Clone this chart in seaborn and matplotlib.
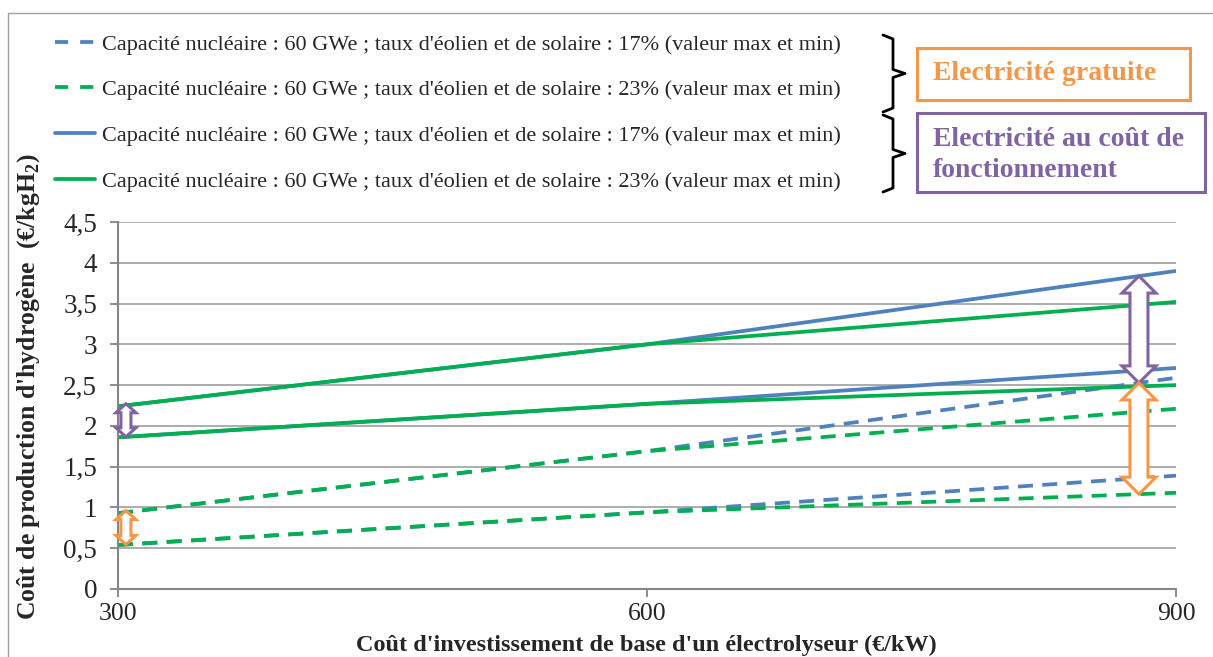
import numpy as np
import pandas as pd
import matplotlib
matplotlib.use("Agg")
import matplotlib.pyplot as plt
import seaborn as sns
from matplotlib.lines import Line2D
from matplotlib.patches import Polygon, Rectangle
from matplotlib.ticker import FuncFormatter
from matplotlib.transforms import IdentityTransform

# ---------------- data ----------------
x_cost = [300, 600, 900]
solid17_max = [2.24, 3.00, 3.90]
solid17_min = [1.86, 2.27, 2.71]
solid23_max = [2.24, 3.00, 3.52]
solid23_min = [1.86, 2.27, 2.50]
dash17_max = [0.93, 1.69, 2.59]
dash17_min = [0.54, 0.94, 1.39]
dash23_max = [0.93, 1.69, 2.21]
dash23_min = [0.54, 0.94, 1.18]

legend_labels = [
    "Capacité nucléaire : 60 GWe ; taux d'éolien et de solaire : 17% (valeur max et min)",
    "Capacité nucléaire : 60 GWe ; taux d'éolien et de solaire : 23% (valeur max et min)",
    "Capacité nucléaire : 60 GWe ; taux d'éolien et de solaire : 17% (valeur max et min)",
    "Capacité nucléaire : 60 GWe ; taux d'éolien et de solaire : 23% (valeur max et min)",
]
y_ticks = [0, 0.5, 1, 1.5, 2, 2.5, 3, 3.5, 4, 4.5]
x_ticks = [300, 600, 900]
ylabel = "Coût de production d'hydrogène  (€/kgH$_\\mathbf{2}$)"
xlabel = "Coût d'investissement de base d'un électrolyseur (€/kW)"

BLUE = "#4F81BD"
GREEN = "#00B050"
PURPLE = "#8064A2"
ORANGE = "#F79646"
GRID = "#A6A6A6"
AXIS = "#868686"

sns.set_style("white")
plt.rcParams["font.family"] = ["Liberation Serif", "DejaVu Serif"]
plt.rcParams["mathtext.fontset"] = "custom"
plt.rcParams["mathtext.bf"] = "Liberation Serif:bold"
plt.rcParams["mathtext.rm"] = "Liberation Serif"

W, H = 1213, 657
AX_L, AX_R, AX_T, AX_B = 118, 1176, 222, 589
fig = plt.figure(figsize=(W / 100, H / 100), dpi=100)
ax = fig.add_axes([AX_L / W, 1 - AX_B / H, (AX_R - AX_L) / W, (AX_B - AX_T) / H])

LW = 2.7
DASH = (4.0, 2.5)
series = [
    (dash17_max, BLUE, True), (dash17_min, BLUE, True),
    (dash23_max, GREEN, True), (dash23_min, GREEN, True),
    (solid17_max, BLUE, False), (solid17_min, BLUE, False),
    (solid23_max, GREEN, False), (solid23_min, GREEN, False),
]
for vals, col, dashed in series:
    df = pd.DataFrame({"x": x_cost, "y": vals})
    sns.lineplot(data=df, x="x", y="y", ax=ax, color=col, lw=LW, legend=False)
    line = ax.lines[-1]
    if dashed:
        line.set_dashes(DASH)
    line.set_solid_capstyle("butt")
    line.set_dash_capstyle("butt")

ax.set_xlim(300, 900)
ax.set_ylim(0, 4.5)
ax.set_yticks(y_ticks)
ax.set_xticks(x_ticks)
ax.yaxis.set_major_formatter(FuncFormatter(lambda v, p: (f"{v:g}").replace(".", ",")))
ax.grid(axis="y", color=GRID, lw=1.3)
ax.grid(axis="x", visible=False)
ax.set_axisbelow(True)
for s in ["top", "right"]:
    ax.spines[s].set_visible(False)
for s in ["left", "bottom"]:
    ax.spines[s].set_color(AXIS)
    ax.spines[s].set_linewidth(1.5)
ax.tick_params(axis="y", direction="out", length=6, width=1.3, color=AXIS,
               labelsize=19.5, pad=9, left=True)
ax.tick_params(axis="x", direction="out", length=6, width=1.3, color=AXIS,
               labelsize=18.5, pad=4, bottom=True)

ax.set_ylabel(ylabel, fontsize=18.5, fontweight="bold")
ax.yaxis.set_label_coords((42 - AX_L) / (AX_R - AX_L), 0.55)
ax.set_xlabel(xlabel, fontsize=17.5, fontweight="bold")
ax.xaxis.label.set_va("bottom")
ax.xaxis.set_label_coords(0.499, (AX_B - 655.5) / (AX_B - AX_T))

# ---------------- hollow double arrows ----------------
def double_arrow(x, y_top, y_bot, color, head_hw, head_len, body_hw, lw):
    fig.canvas.draw()
    px, pt = ax.transData.transform((x, y_top))
    _, pb = ax.transData.transform((x, y_bot))
    pts = [
        (px, pt),
        (px + head_hw, pt - head_len), (px + body_hw, pt - head_len),
        (px + body_hw, pb + head_len), (px + head_hw, pb + head_len),
        (px, pb),
        (px - head_hw, pb + head_len), (px - body_hw, pb + head_len),
        (px - body_hw, pt - head_len), (px - head_hw, pt - head_len),
    ]
    poly = Polygon(pts, closed=True, transform=IdentityTransform(),
                   facecolor="white", edgecolor=color, lw=lw, zorder=6,
                   joinstyle="miter", clip_on=False)
    fig.add_artist(poly)

xr = 879
xl = 304.5
double_arrow(xr, np.interp(xr, x_cost, solid17_max), np.interp(xr, x_cost, dash17_max),
             PURPLE, 17, 17, 9, 2.2)
double_arrow(xr, np.interp(xr, x_cost, dash17_max), np.interp(xr, x_cost, dash23_min),
             ORANGE, 17, 17, 9, 2.2)
double_arrow(xl, np.interp(xl, x_cost, solid17_max) + 0.02, np.interp(xl, x_cost, solid17_min),
             PURPLE, 10, 9, 5, 2.2)
double_arrow(xl, np.interp(xl, x_cost, dash17_max) + 0.02, np.interp(xl, x_cost, dash17_min),
             ORANGE, 10, 9, 5, 2.2)

# ---------------- legend ----------------
LEG_DASH = (3.5, 3.2)
handles = [
    Line2D([], [], color=BLUE, lw=LW, dashes=LEG_DASH),
    Line2D([], [], color=GREEN, lw=LW, dashes=LEG_DASH),
    Line2D([], [], color=BLUE, lw=LW),
    Line2D([], [], color=GREEN, lw=LW),
]
leg = fig.legend(handles, legend_labels, loc="upper left",
                 bbox_to_anchor=(55 / W, 1 - 34 / H), frameon=False,
                 fontsize=16, handlelength=1.8, handletextpad=0.3,
                 labelspacing=1.13, borderaxespad=0, borderpad=0)

# ---------------- figure frame ----------------
fig.add_artist(Rectangle((8 / W, -0.05), 1.2, 1 - 13 / H + 0.05, transform=fig.transFigure,
                         fill=False, edgecolor="#A0A0A0", lw=1.0, zorder=0))

# ---------------- braces ----------------
def brace(y0, y1, x0=883, x1=893, xm=905):
    ym = (y0 + y1) / 2
    xs = [x0, x1, x1, xm, x1, x1, x0]
    ys = [y0, y0 + 4, ym - 4, ym, ym + 4, y1 - 4, y1]
    fig.add_artist(Line2D([v / W for v in xs], [1 - v / H for v in ys],
                          transform=fig.transFigure, color="black", lw=2.0,
                          solid_joinstyle="round"))

brace(35, 112)
brace(115, 192)

# ---------------- annotation boxes ----------------
fig.add_artist(Rectangle((917 / W, 1 - 100 / H), (1190 - 917) / W, 52 / H,
                         transform=fig.transFigure, fill=False, edgecolor=ORANGE, lw=2.2))
fig.text(933 / W, 1 - 74 / H, "Electricité gratuite", color=ORANGE, fontsize=20,
         fontweight="bold", va="center", ha="left")
fig.add_artist(Rectangle((917 / W, 1 - 192 / H), (1205 - 917) / W, 79 / H,
                         transform=fig.transFigure, fill=False, edgecolor=PURPLE, lw=2.2))
fig.text(933 / W, 1 - 155 / H, "Electricité au coût de\nfonctionnement", color=PURPLE,
         fontsize=20, fontweight="bold", va="center", ha="left", linespacing=1.3)

fig.savefig("out.png", dpi=100)
